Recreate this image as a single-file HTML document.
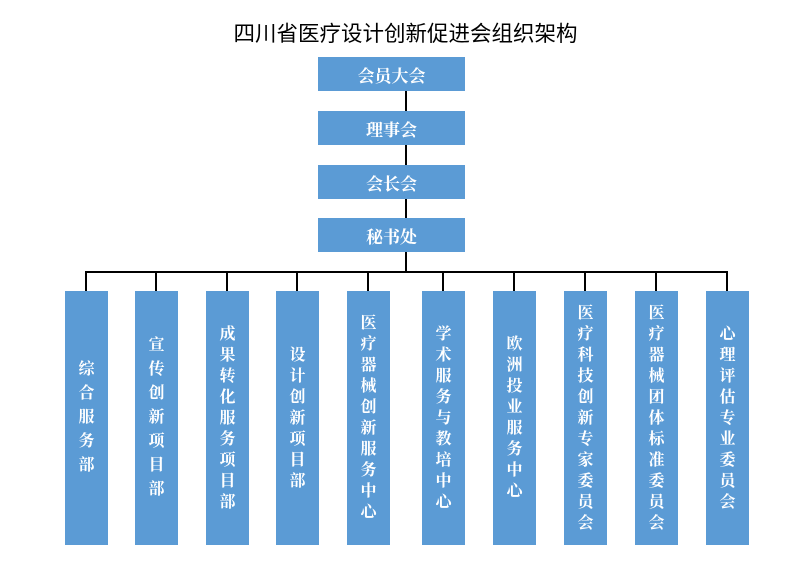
<!DOCTYPE html>
<html><head><meta charset="utf-8"><style>
body{margin:0;background:#fff;width:797px;height:579px;position:relative;overflow:hidden;font-family:"Liberation Serif","Noto Serif CJK SC","Noto Sans CJK SC",serif;}
.t{position:absolute;left:7px;width:797px;top:17px;text-align:center;font-size:21.5px;color:#000;font-family:"Liberation Sans","Noto Sans CJK SC",sans-serif;}
.b{position:absolute;background:#5b9bd5;color:#fff;display:flex;align-items:center;justify-content:center;font-size:17px;font-weight:bold;}
.top{left:318px;width:147px;height:34px;}
.v{top:291px;height:254px;width:43px;flex-direction:column;font-size:16px;}
.v span{display:block;text-align:center;}
.l{position:absolute;background:#000;}
</style></head><body>
<div class="t">四川省医疗设计创新促进会组织架构</div>
<div class="b top" style="top:57px">会员大会</div>
<div class="b top" style="top:111px">理事会</div>
<div class="b top" style="top:165px">会长会</div>
<div class="b top" style="top:218px">秘书处</div>
<div class="l" style="left:405px;top:91px;width:2px;height:20px"></div>
<div class="l" style="left:405px;top:145px;width:2px;height:20px"></div>
<div class="l" style="left:405px;top:199px;width:2px;height:19px"></div>
<div class="l" style="left:405px;top:252px;width:2px;height:20px"></div>
<div class="l" style="left:85px;top:271px;width:643px;height:2px"></div>
<div class="l" style="left:85px;top:271px;width:2px;height:20px"></div>
<div class="l" style="left:155px;top:271px;width:2px;height:20px"></div>
<div class="l" style="left:226px;top:271px;width:2px;height:20px"></div>
<div class="l" style="left:296px;top:271px;width:2px;height:20px"></div>
<div class="l" style="left:367px;top:271px;width:2px;height:20px"></div>
<div class="l" style="left:442px;top:271px;width:2px;height:20px"></div>
<div class="l" style="left:513px;top:271px;width:2px;height:20px"></div>
<div class="l" style="left:584px;top:271px;width:2px;height:20px"></div>
<div class="l" style="left:655px;top:271px;width:2px;height:20px"></div>
<div class="l" style="left:726px;top:271px;width:2px;height:20px"></div>
<div class="b v" style="left:65px;line-height:24px"><span>综<br>合<br>服<br>务<br>部</span></div>
<div class="b v" style="left:135px;line-height:24px"><span>宣<br>传<br>创<br>新<br>项<br>目<br>部</span></div>
<div class="b v" style="left:206px;line-height:21px"><span>成<br>果<br>转<br>化<br>服<br>务<br>项<br>目<br>部</span></div>
<div class="b v" style="left:276px;line-height:21px"><span>设<br>计<br>创<br>新<br>项<br>目<br>部</span></div>
<div class="b v" style="left:347px;line-height:21px"><span>医<br>疗<br>器<br>械<br>创<br>新<br>服<br>务<br>中<br>心</span></div>
<div class="b v" style="left:422px;line-height:21px"><span>学<br>术<br>服<br>务<br>与<br>教<br>培<br>中<br>心</span></div>
<div class="b v" style="left:493px;line-height:21px"><span>欧<br>洲<br>投<br>业<br>服<br>务<br>中<br>心</span></div>
<div class="b v" style="left:564px;line-height:21px"><span>医<br>疗<br>科<br>技<br>创<br>新<br>专<br>家<br>委<br>员<br>会</span></div>
<div class="b v" style="left:635px;line-height:21px"><span>医<br>疗<br>器<br>械<br>团<br>体<br>标<br>准<br>委<br>员<br>会</span></div>
<div class="b v" style="left:706px;line-height:21px"><span>心<br>理<br>评<br>估<br>专<br>业<br>委<br>员<br>会</span></div>
</body></html>
